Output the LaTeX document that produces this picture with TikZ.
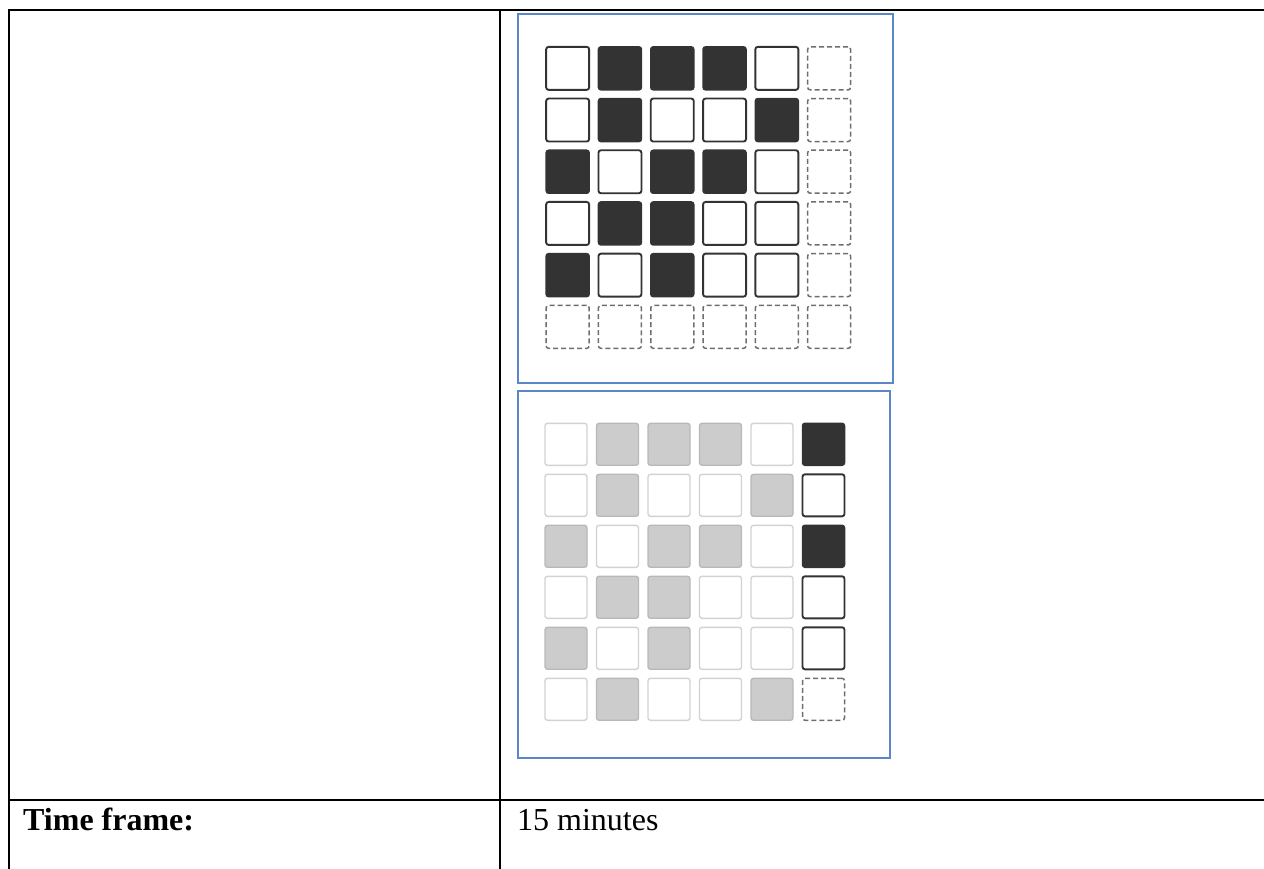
\documentclass[tikz,border=0pt]{standalone}
\usepackage{fontspec}
\setmainfont{Liberation Serif}
\definecolor{boxblue}{HTML}{5A87C5}
\definecolor{dark}{HTML}{333333}
\definecolor{gfill}{HTML}{CCCCCC}
\definecolor{gline}{HTML}{B8B8B8}
\definecolor{lline}{HTML}{D2D2D2}
\definecolor{dline}{HTML}{6E6E6E}
\tikzset{
  rule/.style={line width=2pt, black},
  frame/.style={draw=boxblue, line width=1.5pt},
  sqbase/.style={rectangle, rounded corners=2.5pt, inner sep=0pt, outer sep=0pt},
  sqD/.style={sqbase, fill=dark, draw=dark, line width=1.5pt},
  sqW/.style={sqbase, fill=white, draw=dark, line width=1.9pt},
  sqd/.style={sqbase, draw=dline, line width=1.5pt, dash pattern=on 5pt off 3pt},
  sqG/.style={sqbase, fill=gfill, draw=gline, line width=1.3pt},
  sqL/.style={sqbase, fill=white, draw=lline, line width=1.4pt},
  lbl/.style={anchor=base west, inner sep=0pt, font=\fontsize{32}{38}\selectfont},
}
\begin{document}
\begin{tikzpicture}[x=1pt,y=-1pt]
\useasboundingbox (0,0) rectangle (1264,869);
% table rules
\coordinate (tl) at (8.5,10);
\coordinate (tr) at (1264,10);
\coordinate (bl) at (8.5,869);
\coordinate (dt) at (500,10);
\coordinate (db) at (500,869);
\coordinate (ml) at (8.5,800);
\coordinate (mr) at (1264,800);
\draw[rule] (tr) -- (tl) -- (bl);
\draw[rule] (dt) -- (db);
\draw[rule] (ml) -- (mr);
% blue frames
\node[frame, rectangle, inner sep=0pt, minimum width=375pt, minimum height=368.5pt, anchor=north west] (topframe) at (517,13.5) {};
\node[frame, rectangle, inner sep=0pt, minimum width=372pt, minimum height=367pt, anchor=north west] (botframe) at (517,390) {};
% top grid
\tikzset{topsq/.style={minimum size=43pt}}
\foreach \r/\c in {0/1,0/2,0/3,1/1,1/4,2/0,2/2,2/3,3/1,3/2,4/0,4/2}
  \node[sqD, topsq] (t-\r-\c) at ({546+21.65+52.3*\c},{46.7+21.65+51.7*\r}) {};
\foreach \r/\c in {0/0,0/4,1/0,1/2,1/3,2/1,2/4,3/0,3/3,3/4,4/1,4/3,4/4}
  \node[sqW, topsq] (t-\r-\c) at ({546+21.65+52.3*\c},{46.7+21.65+51.7*\r}) {};
\foreach \r/\c in {0/5,1/5,2/5,3/5,4/5,5/0,5/1,5/2,5/3,5/4,5/5}
  \node[sqd, topsq] (t-\r-\c) at ({546+21.65+52.3*\c},{46.7+21.65+51.7*\r}) {};
% bottom grid
\tikzset{botsq/.style={minimum size=42pt}}
\foreach \r/\c in {0/1,0/2,0/3,1/1,1/4,2/0,2/2,2/3,3/1,3/2,4/0,4/2,5/1,5/4}
  \node[sqG, botsq] (b-\r-\c) at ({545+21+51.5*\c},{423.3+21+51*\r}) {};
\foreach \r/\c in {0/0,0/4,1/0,1/2,1/3,2/1,2/4,3/0,3/3,3/4,4/1,4/3,4/4,5/0,5/2,5/3}
  \node[sqL, botsq] (b-\r-\c) at ({545+21+51.5*\c},{423.3+21+51*\r}) {};
\foreach \r in {0,2}
  \node[sqD, botsq] (b-\r-5) at ({545+21+51.5*5},{423.3+21+51*\r}) {};
\foreach \r in {1,3,4}
  \node[sqW, botsq] (b-\r-5) at ({545+21+51.5*5},{423.3+21+51*\r}) {};
\node[sqd, botsq] (b-5-5) at ({545+21+51.5*5},{423.3+21+51*5}) {};
% labels
\node[lbl] (tf) at (23,830) {\bfseries Time frame:};
\node[lbl] (mins) at (517,830) {15 minutes};
\end{tikzpicture}
\end{document}
